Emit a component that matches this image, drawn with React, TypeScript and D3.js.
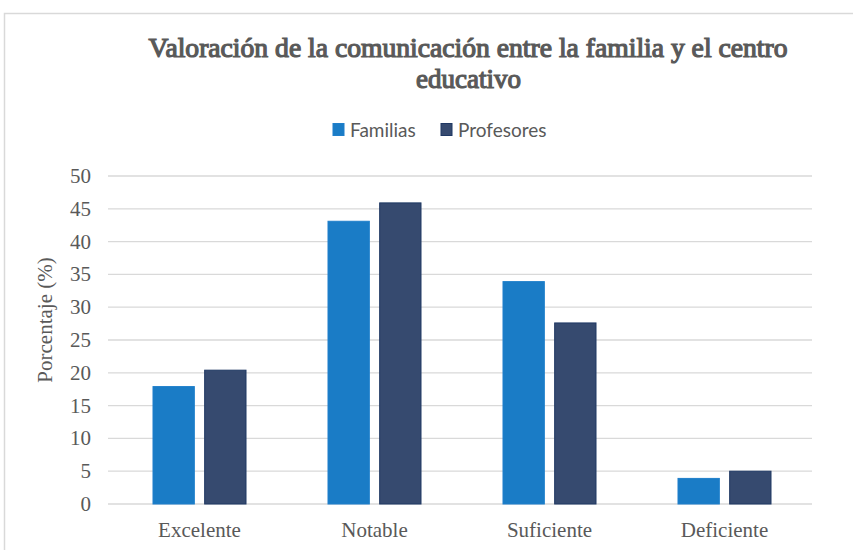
import React from "react";
import * as d3 from "d3";

const categories = ["Excelente", "Notable", "Suficiente", "Deficiente"];
const seriesNames = ["Familias", "Profesores"];
const familias = [17.9, 43.1, 33.9, 3.9];
const profesores = [20.4, 45.9, 27.6, 5.0];
const yTicks = [0, 5, 10, 15, 20, 25, 30, 35, 40, 45, 50];

const W = 853;
const H = 550;
const fills = ["#1a7cc6", "#364a6f"];
const strokes = ["#1f7fcb", "#1f3864"];
const textColor = "#595959";
const serif = "'Liberation Serif', 'Times New Roman', Times, serif";

export default function App() {
  const x0 = d3.scaleBand<string>().domain(categories).range([112, 812]).paddingInner(0).paddingOuter(0);
  const x1 = d3.scaleBand<string>().domain(seriesNames).range([0, 93]).paddingInner(0.2);
  const y = d3.scaleLinear().domain([0, 50]).range([504, 176]);
  const series = [familias, profesores];

  return (
    <svg width={W} height={H} style={{ position: "absolute", left: 0, top: 0 }}>
      <rect x={0} y={0} width={W} height={H} fill="#fff" />
      <rect x={4.5} y={13.5} width={W + 10} height={H + 10} fill="none" stroke="#d9d9d9" strokeWidth={1.5} />
      <text x={468} y={57} textAnchor="middle" fontFamily={serif} fontSize={27} fill={textColor} stroke={textColor} strokeWidth={1.2} textLength={639} lengthAdjust="spacingAndGlyphs">
        Valoración de la comunicación entre la familia y el centro
      </text>
      <text x={468.5} y={87.5} textAnchor="middle" fontFamily={serif} fontSize={27} fill={textColor} stroke={textColor} strokeWidth={1.2} textLength={105} lengthAdjust="spacingAndGlyphs">
        educativo
      </text>
      {/* legend */}
      {seriesNames.map((s, i) => {
        const lx = [333, 441][i];
        return (
          <g key={s}>
            <rect x={lx} y={123.5} width={11} height={12} fill={fills[i]} stroke={strokes[i]} />
            <text x={lx + 17} y={136.5} fontFamily="Lato, 'Open Sans', sans-serif" fontSize={19} fill={textColor}>
              {s}
            </text>
          </g>
        );
      })}
      {/* grid */}
      {yTicks.map((t) => (
        <g key={t}>
          <line x1={108} x2={812} y1={y(t)} y2={y(t)} stroke="#d9d9d9" strokeWidth={1.3} />
          <text x={91} y={y(t) + 7} textAnchor="end" fontFamily={serif} fontSize={21} fill={textColor}>
            {t}
          </text>
        </g>
      ))}
      <text
        transform={`translate(52,320) rotate(-90)`}
        textAnchor="middle"
        fontFamily={serif}
        fontSize={21}
        fill={textColor}
      >
        Porcentaje (%)
      </text>
      {/* bars */}
      {categories.map((c, ci) => {
        const gx = (x0(c) as number) + x0.bandwidth() / 2 - 46.5;
        return (
          <g key={c}>
            {series.map((vals, si) => (
              <rect
                key={si}
                x={gx + (x1(seriesNames[si]) as number)}
                y={y(vals[ci])}
                width={x1.bandwidth()}
                height={504 - y(vals[ci])}
                fill={fills[si]}
                stroke={strokes[si]}
                strokeWidth={1}
              />
            ))}
            <text
              x={(x0(c) as number) + x0.bandwidth() / 2}
              y={537}
              textAnchor="middle"
              fontFamily={serif}
              fontSize={21}
              fill={textColor}
            >
              {c}
            </text>
          </g>
        );
      })}
    </svg>
  );
}
